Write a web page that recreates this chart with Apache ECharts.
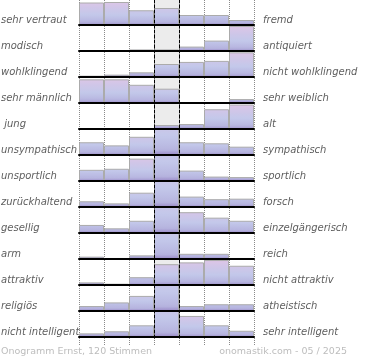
<!DOCTYPE html>
<html><head><meta charset="utf-8">
<script src="https://cdn.jsdelivr.net/npm/echarts@6/dist/echarts.min.js"></script>
<style>html,body{margin:0;padding:0;background:#fff}#c{width:370px;height:360px}</style>
</head><body><div id="c"></div>
<script>
// ---- data ----
const leftLabels = ['sehr vertraut','modisch','wohlklingend','sehr männlich',' jung','unsympathisch','unsportlich','zurückhaltend','gesellig','arm','attraktiv','religiös','nicht intelligent'];
const rightLabels = ['fremd','antiquiert','nicht wohlklingend','sehr weiblich','alt','sympathisch','sportlich','forsch','einzelgängerisch','reich','nicht attraktiv','atheistisch','sehr intelligent'];
const scaleSteps = ['1','2','3','4','5','6','7'];
// bar heights as % of the row scale (values above 100 are cut off at the row top)
const vertraut     = [90, 92, 59, 68, 40, 40, 20];
const modisch      = [0, 0, 6, 6, 17, 40, 96];
const wohlklingend = [5, 9, 18, 50, 58, 62, 95];
const maennlich    = [91, 91, 70, 55, 0, 0, 15];
const jung         = [3, 3, 3, 15, 19, 76, 94];
const unsympathisch= [49, 37, 70, 180, 49, 45, 32];
const unsportlich  = [43, 47, 86, 180, 40, 17, 15];
const zurueck      = [22, 14, 55, 180, 40, 30, 32];
const gesellig     = [31, 18, 47, 180, 80, 59, 47];
const arm          = [9, 4, 14, 180, 20, 20, 4];
const attraktiv    = [10, 5, 30, 80, 87, 96, 74];
const religioes    = [19, 33, 58, 180, 19, 26, 26];
const intelligent  = [14, 22, 45, 180, 81, 45, 24];
const rows = [vertraut, modisch, wohlklingend, maennlich, jung, unsympathisch, unsportlich, zurueck, gesellig, arm, attraktiv, religioes, intelligent];
const footerLeft = 'Onogramm Ernst, 120 Stimmen';
const footerRight = 'onomastik.com - 05 / 2025';

// ---- layout ----
const ROW_TOP0 = -1, ROW_H = 26, LEFT = 79, WIDTH = 175;

function hexToRgb(h){h=h.replace('#','');return [0,2,4].map(i=>parseInt(h.substr(i,2),16));}
const ramp = [[0,'#9a8ac6'],[0.1,'#b6b4df'],[0.4,'#c3c8ea'],[0.7,'#d0c6e8'],[1,'#e0c5e6']];
function rampColor(s){
  s = Math.max(0, Math.min(1, s));
  for (let i=0;i<ramp.length-1;i++){
    const [a,ca]=ramp[i],[b,cb]=ramp[i+1];
    if (s<=b){ const k=(s-a)/(b-a); const A=hexToRgb(ca),B=hexToRgb(cb);
      return 'rgb('+A.map((v,j)=>Math.round(v+(B[j]-v)*k)).join(',')+')'; }
  }
  return ramp[ramp.length-1][1];
}
function barColor(v){
  const f = Math.min(v,100)/100, R = Math.max(v,100)/100;
  const stops = [];
  for (let i=0;i<=12;i++){ const t=i/12; stops.push({offset:t,color:rampColor(f*(1-t)/R)}); }
  return new echarts.graphic.LinearGradient(0,0,0,1,stops);
}

const grid = [
  {left:LEFT, width:WIDTH, top:0, height:345, show:false},
  {left:LEFT+75, width:25, top:0, height:338, show:true, backgroundColor:'#ececec', borderWidth:0}
];
const xAxis = [
  {type:'category', gridIndex:0, data:scaleSteps, axisLine:{show:false}, axisTick:{show:false}, axisLabel:{show:false, interval:0},
   splitLine:{show:true, interval:0, lineStyle:{color:'#8a8a8a', type:'dotted', width:1}}, z:0},
  {type:'value', gridIndex:1, min:0, max:1, show:false}
];
const yAxis = [
  {type:'value', gridIndex:0, min:0, max:1, show:false},
  {type:'value', gridIndex:1, min:0, max:1, position:'left', axisLine:{show:true, lineStyle:{color:'#000', type:[3,2], width:1}}, axisTick:{show:false}, axisLabel:{show:false}, splitLine:{show:false}, z:10},
  {type:'value', gridIndex:1, min:0, max:1, position:'right', axisLine:{show:true, lineStyle:{color:'#000', type:[3,2], width:1}}, axisTick:{show:false}, axisLabel:{show:false}, splitLine:{show:false}, z:10}
];
const series = [];
const graphic = [];
rows.forEach((vals, k) => {
  const top = ROW_TOP0 + k*ROW_H;
  grid.push({left:LEFT, width:WIDTH, top:top, height:ROW_H, show:false});
  xAxis.push({type:'category', gridIndex:k+2, data:scaleSteps, axisLine:{show:true, onZero:false, lineStyle:{color:'#000', width:2}},
    axisTick:{show:false}, axisLabel:{show:false}, splitLine:{show:false}, z:5});
  yAxis.push({type:'value', gridIndex:k+2, min:0, max:100, show:false});
  series.push({type:'bar', xAxisIndex:k+2, yAxisIndex:k+3, barCategoryGap:'0%', clip:true, silent:true, z:2,
    itemStyle:{borderColor:'#ababab', borderWidth:1},
    data: vals.map(v => ({value:v, itemStyle:{color:barColor(v)}}))});
  graphic.push({type:'text', x:1, y:top+21, z:100, style:{text:leftLabels[k], fill:'#5e5e5e', font:'italic 10px "DejaVu Sans"', verticalAlign:'middle', align:'left'}});
  graphic.push({type:'text', x:263, y:top+21, z:100, style:{text:rightLabels[k], fill:'#5e5e5e', font:'italic 10px "DejaVu Sans"', verticalAlign:'middle', align:'left'}});
});
graphic.push({type:'text', x:1, y:352, z:100, style:{text:footerLeft, fill:'#bdbdbd', font:'9.5px "DejaVu Sans"', verticalAlign:'middle', align:'left'}});
graphic.push({type:'text', x:347, y:352, z:100, style:{text:footerRight, fill:'#bdbdbd', font:'9.5px "DejaVu Sans"', verticalAlign:'middle', align:'right'}});

const chart = echarts.init(document.getElementById('c'), null, {renderer:'canvas'});
chart.setOption({animation:false, backgroundColor:'#fff', grid, xAxis, yAxis, series, graphic});
</script></body></html>
